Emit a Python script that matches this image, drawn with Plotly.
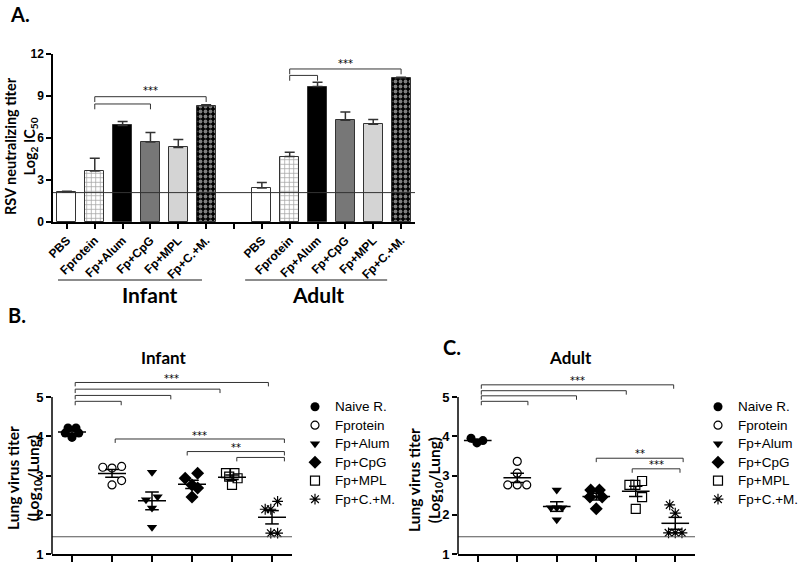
import numpy as np
import plotly.graph_objects as go

# ---- panel A: RSV neutralizing titer (log2 IC50), mean + SEM ----
groups = ['PBS', 'Fprotein', 'Fp+Alum', 'Fp+CpG', 'Fp+MPL', 'Fp+C.+M.']
nab_infant = [2.15, 3.65, 6.9, 5.72, 5.33, 8.31]
nab_infant_sem = [0.05, 0.9, 0.28, 0.68, 0.57, 0.07]
nab_adult = [2.42, 4.67, 9.67, 7.26, 6.98, 10.31]
nab_adult_sem = [0.41, 0.31, 0.31, 0.6, 0.35, 0.03]
nab_cutoff = 2.1

# ---- panels B/C: lung virus titer (log10/lung), individual mice ----
legend_names = ['Naive R.', 'Fprotein', 'Fp+Alum', 'Fp+CpG', 'Fp+MPL', 'Fp+C.+M.']
lung_infant = [
    [4.21, 4.21, 4.08, 4.08, 3.97],
    [3.21, 3.19, 3.23, 2.76, 2.87],
    [3.08, 2.38, 2.46, 2.17, 1.68],
    [2.93, 3.06, 2.76, 2.68, 2.45],
    [3.06, 3.06, 2.97, 2.93, 2.76],
    [2.14, 2.14, 2.34, 1.53, 1.53],
]
lung_infant_dx = [
    [-0.1, 0.1, -0.17, 0.17, 0],
    [-0.23, 0, 0.24, 0, 0.24],
    [0, -0.15, 0.14, 0, 0],
    [-0.17, 0.14, 0, 0.14, 0],
    [-0.15, 0.06, -0.07, 0.14, 0],
    [-0.17, -0.03, 0.14, -0.03, 0.14],
]
lung_adult = [
    [3.95, 3.83, 3.89],
    [3.36, 3.06, 2.76, 2.76, 2.76],
    [2.63, 2.18, 2.18, 2.18, 1.87],
    [2.63, 2.63, 2.45, 2.45, 2.15],
    [2.76, 2.76, 2.86, 2.45, 2.15],
    [2.25, 2.04, 1.54, 1.54, 1.54],
]
lung_adult_dx = [
    [-0.17, -0.02, 0.13],
    [0, 0, -0.24, 0, 0.24],
    [0, -0.15, 0, 0.14, 0],
    [-0.14, 0.08, -0.16, 0.15, 0],
    [-0.16, -0.01, 0.16, 0.16, 0],
    [-0.14, 0, -0.17, 0, 0.17],
]
lung_cutoff = 1.44

# significance brackets: (x0, x1, y, label)
brk_a = [(1, 3, 8.43, ''), (1, 5, 8.95, '***'), (8, 9, 10.47, ''), (8, 12, 10.93, '***')]
brk_b = [(0.08, 1.23, 4.89, ''), (0.08, 2.47, 5.04, ''), (0.08, 3.7, 5.2, ''), (0.08, 4.91, 5.37, '***'),
         (1.08, 5.31, 3.93, '***'), (2.88, 5.31, 3.61, '**'), (4.12, 5.31, 3.46, '')]
brk_c = [(0.09, 1.27, 4.89, ''), (0.09, 2.5, 5.03, ''), (0.09, 3.76, 5.16, ''), (0.09, 4.96, 5.31, '***'),
         (3.0, 5.2, 3.44, '**'), (3.91, 5.12, 3.17, '***')]

W, H = 800, 565


def px(x):
    return x / W


def py(y):
    return 1 - y / H


tick_font = dict(family='Liberation Sans', size=12, color='black', weight='bold')
title_font = 'Lato'

fig = go.Figure()

# bars
bar_x = list(range(6)) + list(range(7, 13))
pat_shape = ['', '+', '', '', '', '.'] * 2
pat_fg = ['#fff', '#333', '#000', '#777', '#d4d4d4', '#fff'] * 2
pat_bg = ['#fff', '#fff', '#000', '#777', '#d4d4d4', '#000'] * 2
pat_size = [6, 4.5, 6, 6, 6, 5] * 2
pat_sol = [0.3, 0.3, 0.3, 0.3, 0.3, 0.45] * 2
fig.add_trace(go.Bar(
    x=bar_x, y=nab_infant + nab_adult, width=0.68,
    marker=dict(color=pat_bg, line=dict(color='#333', width=1),
                pattern=dict(shape=pat_shape, fgcolor=pat_fg, bgcolor=pat_bg,
                             size=pat_size, solidity=pat_sol)),
    error_y=dict(type='data', symmetric=False, array=nab_infant_sem + nab_adult_sem,
                 arrayminus=[0] * 12, color='#333', thickness=1.5, width=5),
    xaxis='x', yaxis='y', showlegend=False, hoverinfo='skip'))

sym = ['circle', 'circle-open', 'triangle-down', 'diamond', 'square-open', 'asterisk-open']
sym_size = [9, 8, 9, 10, 9, 9]
sym_lw = [0, 1.2, 0, 0, 1.2, 1.2]


def add_dots(data, dx, xa, ya):
    mx, my = [], []
    for i, (vals, offs) in enumerate(zip(data, dx)):
        fig.add_trace(go.Scatter(
            x=[i + o for o in offs], y=vals, mode='markers', name=legend_names[i],
            marker=dict(symbol=sym[i], size=sym_size[i], color='black',
                        line=dict(width=sym_lw[i], color='black')),
            xaxis=xa, yaxis=ya, showlegend=False, cliponaxis=False))
        v = np.array(vals)
        m = v.mean()
        s = v.std(ddof=1) / np.sqrt(len(v))
        mx += [i - 0.35, i + 0.35, None, i, i, None,
               i - 0.17, i + 0.17, None, i - 0.17, i + 0.17, None]
        my += [m, m, None, m - s, m + s, None, m + s, m + s, None, m - s, m - s, None]
    fig.add_trace(go.Scatter(x=mx, y=my, mode='lines', line=dict(color='black', width=1.5),
                             xaxis=xa, yaxis=ya, showlegend=False, hoverinfo='skip'))


add_dots(lung_infant, lung_infant_dx, 'x2', 'y2')
add_dots(lung_adult, lung_adult_dx, 'x3', 'y3')

shapes = []
annots = []

# hand-built legends on an invisible full-page axis pair measured in pixels
rows = [406.7 + 18.5 * i for i in range(6)]
for i, name in enumerate(legend_names):
    fig.add_trace(go.Scatter(
        x=[315, 718], y=[rows[i], rows[i]], mode='markers', xaxis='x4', yaxis='y4',
        showlegend=False, hoverinfo='skip',
        marker=dict(symbol=sym[i], size=sym_size[i], color='#000', opacity=1,
                    line=dict(width=sym_lw[i], color='#000'))))
    for mx0 in (315, 718):
        annots.append(dict(x=px(mx0 + 18), y=py(rows[i]), xref='paper', yref='paper', text=name,
                           showarrow=False, xanchor='left', yanchor='middle',
                           font=dict(family='Liberation Sans', size=13.5, color='black')))


def brackets(lst, xr, yr, drop, star_dy):
    for x0, x1, y, lab in lst:
        shapes.append(dict(type='path', xref=xr, yref=yr,
                           path=f'M{x0},{y - drop} L{x0},{y} L{x1},{y} L{x1},{y - drop}',
                           line=dict(color='#333', width=1)))
        if lab:
            annots.append(dict(x=(x0 + x1) / 2, y=y + star_dy, xref=xr, yref=yr, text=lab,
                               showarrow=False, font=dict(family='DejaVu Sans', size=10, color='#000')))


brackets(brk_a, 'x', 'y', 0.38, 0.42)
brackets(brk_b, 'x2', 'y2', 0.1, 0.1)
brackets(brk_c, 'x3', 'y3', 0.1, 0.12)

# cut-off lines
shapes.append(dict(type='line', xref='x domain', yref='y', x0=0, x1=1, y0=nab_cutoff, y1=nab_cutoff,
                   line=dict(color='#333', width=1)))
shapes.append(dict(type='line', xref='x2 domain', yref='y2', x0=0, x1=1, y0=lung_cutoff, y1=lung_cutoff,
                   line=dict(color='#555', width=1.2)))
shapes.append(dict(type='line', xref='x3 domain', yref='y3', x0=0, x1=1, y0=lung_cutoff, y1=lung_cutoff,
                   line=dict(color='#555', width=1.2)))
# y axis lines for B, C (stop at 5)
for xp, yr in [(52, 'y2'), (458, 'y3')]:
    shapes.append(dict(type='line', xref='paper', yref=yr, x0=px(xp), x1=px(xp), y0=1, y1=5,
                       line=dict(color='black', width=1.5)))
# group lines under panel A
shapes.append(dict(type='line', xref='x', yref='paper', x0=-0.32, x1=4.85, y0=py(280), y1=py(280),
                   line=dict(color='#666', width=1.5)))
shapes.append(dict(type='line', xref='x', yref='paper', x0=6.4, x1=11.5, y0=py(280), y1=py(280),
                   line=dict(color='#666', width=1.5)))


def label(x, y, text, size, angle=0):
    annots.append(dict(x=px(x), y=py(y), xref='paper', yref='paper', text=text, showarrow=False,
                       textangle=angle, xanchor='center', yanchor='middle',
                       font=dict(family=title_font, size=size, color='black')))


label(20, 14, '<b>A.</b>', 20)
label(17, 315, '<b>B.</b>', 20)
label(452, 347, '<b>C.</b>', 20)
label(150, 294, '<b>Infant</b>', 21)
label(318, 294, '<b>Adult</b>', 21)
label(164, 357, '<b>Infant</b>', 17)
label(570, 357, '<b>Adult</b>', 17)
label(21, 146, '<b>RSV neutralizing titer<br>Log<sub>2</sub> IC<sub>50</sub></b>', 14.5, -90)
label(24, 478, '<b>Lung virus titer<br>(Log<sub>10</sub>/Lung)</b>', 15.5, -90)
label(425, 480, '<b>Lung virus titer<br>(Log<sub>10</sub>/Lung)</b>', 15.5, -90)

ax_common = dict(showline=True, linecolor='black', linewidth=1.5, ticks='outside', tickcolor='black',
                 tickwidth=1.5, showgrid=False, zeroline=False, tickfont=tick_font, fixedrange=True)

y_top = 554 - 4.7 * 39.25
fig.update_layout(
    width=W, height=H, margin=dict(l=0, r=0, t=0, b=0, autoexpand=False),
    paper_bgcolor='white', plot_bgcolor='rgba(0,0,0,0)', bargap=0, hovermode=False,
    xaxis=dict(domain=[px(53), px(415)], range=[-0.5, 12.5], tickvals=list(range(13)),
               ticktext=groups + [''] + groups, tickangle=-45, ticklen=5, anchor='y', **ax_common),
    yaxis=dict(domain=[py(222), py(54)], range=[0, 12], tickvals=[0, 3, 6, 9, 12], ticklen=5,
               anchor='x', **ax_common),
    xaxis2=dict(domain=[px(52), px(292)], range=[-0.5, 5.5], tickvals=list(range(6)),
                showticklabels=False, ticklen=6, anchor='y2', **ax_common),
    yaxis2=dict(domain=[py(554), py(y_top)], range=[1, 5.7], tickvals=[1, 2, 3, 4, 5], ticklen=5,
                anchor='x2', **{**ax_common, 'showline': False, 'tickfont': dict(tick_font, size=13)}),
    xaxis3=dict(domain=[px(458), px(695)], range=[-0.5, 5.5], tickvals=list(range(6)),
                showticklabels=False, ticklen=6, anchor='y3', **ax_common),
    yaxis3=dict(domain=[py(554), py(y_top)], range=[1, 5.7], tickvals=[1, 2, 3, 4, 5], ticklen=5,
                anchor='x3', **{**ax_common, 'showline': False, 'tickfont': dict(tick_font, size=13)}),
    xaxis4=dict(domain=[0, 1], range=[0, W], visible=False, fixedrange=True, anchor='y4'),
    yaxis4=dict(domain=[0, 1], range=[H, 0], visible=False, fixedrange=True, anchor='x4'),
    shapes=shapes, annotations=annots,
)

fig.write_html('out.html', config={'displayModeBar': False},
               post_script="document.body.style.margin='0';")
